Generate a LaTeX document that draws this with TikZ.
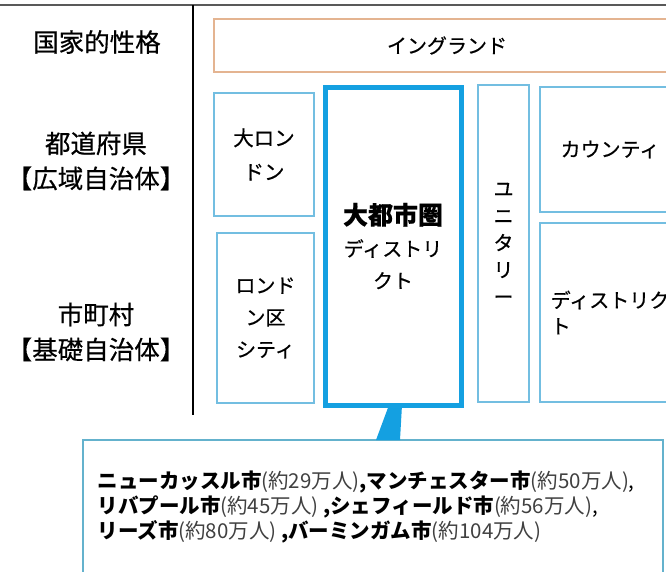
\documentclass[tikz,border=0pt]{standalone}
\usepackage{fontspec}
\usepackage{xcolor}
\usepackage{tikz}
\usetikzlibrary{positioning}
\newfontfamily\jpfont{Noto Sans CJK JP}
\newfontfamily\jpmedium[FakeBold=0.5]{Noto Sans CJK JP}
\definecolor{metroblue}{RGB}{20,160,225}
\definecolor{tierblue}{RGB}{115,190,225}
\definecolor{nationline}{RGB}{228,180,145}
\definecolor{noteline}{RGB}{100,178,205}
\newcommand\cityname[1]{{\bfseries #1}}
\newcommand\popnote[1]{{\color{black!75}(約#1万人)}}
\tikzset {
  x=1pt, y=-1pt,
  % headings of the left column
  tier/.style={align=center, font=\jpmedium\fontsize{25.5}{35}\selectfont},
  % plain authority boxes
  unit/.style={draw=tierblue, line width=1.2pt, fill=white, anchor=north west,
    inner sep=0pt, outer sep=0pt, align=center, font=\jpmedium\fontsize{20}{32}\selectfont},
  % the highlighted metropolitan box
  metrobox/.style={unit, draw=metroblue, line width=5pt},
  nationbox/.style={unit, draw=nationline},
  notebox/.style={unit, draw=noteline},
  notetext/.style={anchor=west, align=left, font=\jpfont\fontsize{20.5}{25}\selectfont},
}
\begin{document}
\begin{tikzpicture}
  \useasboundingbox (0,0) rectangle (666,571);
  \clip (0,0) rectangle (666,571);

  \draw[black!65, line width=1.5pt] (0,5) -- (666,5);
  \draw[black, line width=1.2pt] (193,5) -- (193,415);

  \node[tier] (nationlabel) at (97,42) {国家的性格};
  \node[tier] (preflabel) at (96,161) {都道府県\\【広域自治体】};
  \node[tier] (munilabel) at (96,332) {市町村\\【基礎自治体】};

  \node[nationbox, minimum width=466, minimum height=53] (england) at (214,19) {イングランド};

  \node[unit, minimum width=100, minimum height=123, font=\jpmedium\fontsize{20.5}{34}\selectfont] (glondon) at (214,93) {大ロン\\ドン};
  \node[unit, minimum width=97, minimum height=170] (city) at (217,233) {ロンド\\ン区\\シティ};
  \node[metrobox, minimum width=136, minimum height=318] (metro) at (325,87)
    {{\bfseries\fontsize{25}{32}\selectfont 大都市圏}\\ディストリ\\クト};
  \node[unit, minimum width=51, minimum height=317, font=\jpmedium\fontsize{20}{27}\selectfont] (unitary) at (478,85) {ユ\\ニ\\タ\\リ\\ー};
  \node[unit, minimum width=140, minimum height=125] (county) at (540,87) {カウンティ};
  \node[unit, minimum width=140, minimum height=179, align=left, font=\jpmedium\fontsize{20}{26}\selectfont] (district) at (540,223) {ディストリク\\ト};

  \node[notebox, minimum width=580, minimum height=160] (note) at (83,440) {};
  \fill[metroblue] ([xshift=-4pt]metro.south) -- ([xshift=9pt]metro.south)
    -- ([xshift=27pt]note.north) -- ([xshift=3pt]note.north) -- cycle;

  \node[notetext] (towns) at (94,507) {%
    \cityname{ニューカッスル市}\popnote{29}\cityname{,マンチェスター市}\popnote{50},\\
    \cityname{リバプール市}\popnote{45} \cityname{,シェフィールド市}\popnote{56},\\
    \cityname{リーズ市}\popnote{80} \cityname{,バーミンガム市}\popnote{104}};
\end{tikzpicture}
\end{document}
